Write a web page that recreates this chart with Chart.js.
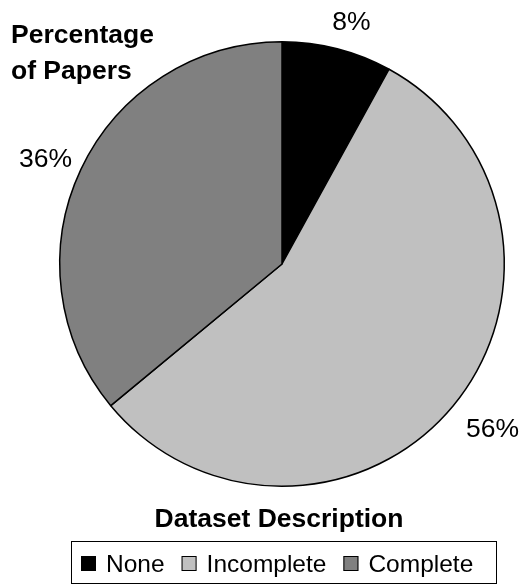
<!DOCTYPE html>
<html>
<head>
<meta charset="utf-8">
<script src="https://cdn.jsdelivr.net/npm/chart.js@4/dist/chart.umd.min.js"></script>
<style>
  html, body { margin: 0; padding: 0; background: #fff; }
  canvas { display: block; }
</style>
</head>
<body>
<canvas id="grafico" width="522" height="584"></canvas>
<script>
const categorias = ['None', 'Incomplete', 'Complete'];
const valores    = [8, 56, 36];
const cores      = ['#000000', '#c0c0c0', '#808080'];
const tituloY    = ['Percentage', 'of Papers'];
const tituloX    = 'Dataset Description';

const fonte = '"Liberation Sans", Arial, sans-serif';

// textos, rótulos de % e legenda desenhados à mão
const extras = {
    id: 'extras',
    afterDraw(chart) {
        const ctx = chart.ctx;
        const meta = chart.getDatasetMeta(0);
        ctx.save();

        // rótulos de porcentagem fora das fatias (caixa encostada no ponto âncora)
        ctx.fillStyle = '#000';
        ctx.font = '26.5px ' + fonte;
        ctx.textAlign = 'center';
        ctx.textBaseline = 'middle';
        meta.data.forEach((arc, i) => {
            const ang = (arc.startAngle + arc.endAngle) / 2;
            const txt = valores[i] + '%';
            const w = ctx.measureText(txt).width, h = 26;
            const r = arc.outerRadius + 18;
            const ax = arc.x + Math.cos(ang) * r + 5;
            const ay = arc.y + Math.sin(ang) * r + 4;
            ctx.fillText(txt, ax + Math.cos(ang) * w / 2, ay + Math.sin(ang) * h / 2);
        });

        // título do eixo (canto superior esquerdo)
        ctx.font = 'bold 26.5px ' + fonte;
        ctx.textAlign = 'left';
        ctx.textBaseline = 'alphabetic';
        ctx.fillText(tituloY[0], 11, 43);
        ctx.fillText(tituloY[1], 11, 79);

        // título inferior
        ctx.textAlign = 'center';
        ctx.fillText(tituloX, 279, 527);

        // legenda com borda
        const bx = 71, by = 541, bw = 425, bh = 42;
        ctx.strokeStyle = '#000';
        ctx.lineWidth = 1;
        ctx.strokeRect(bx + 0.5, by + 0.5, bw, bh);

        ctx.font = '24.5px ' + fonte;
        ctx.textAlign = 'left';
        const quad = 15, gap = 10, entre = 17;
        let x = bx + 10;
        categorias.forEach((c, i) => {
            ctx.fillStyle = cores[i];
            ctx.fillRect(x, 556, quad, quad);
            ctx.strokeRect(x + 0.5, 556.5, quad - 1, quad - 1);
            ctx.fillStyle = '#000';
            ctx.fillText(c, x + quad + gap, 572);
            x += quad + gap + ctx.measureText(c).width + entre;
        });

        ctx.restore();
    }
};

new Chart(document.getElementById('grafico'), {
    type: 'pie',
    data: {
        labels: categorias,
        datasets: [{
            data: valores,
            backgroundColor: cores,
            borderColor: '#000',
            borderWidth: 1.5
        }]
    },
    options: {
        responsive: false,
        animation: false,
        layout: { padding: { left: 59, right: 17, top: 41, bottom: 97 } },
        plugins: {
            legend: { display: false },
            tooltip: { enabled: false }
        }
    },
    plugins: [extras]
});
</script>
</body>
</html>
